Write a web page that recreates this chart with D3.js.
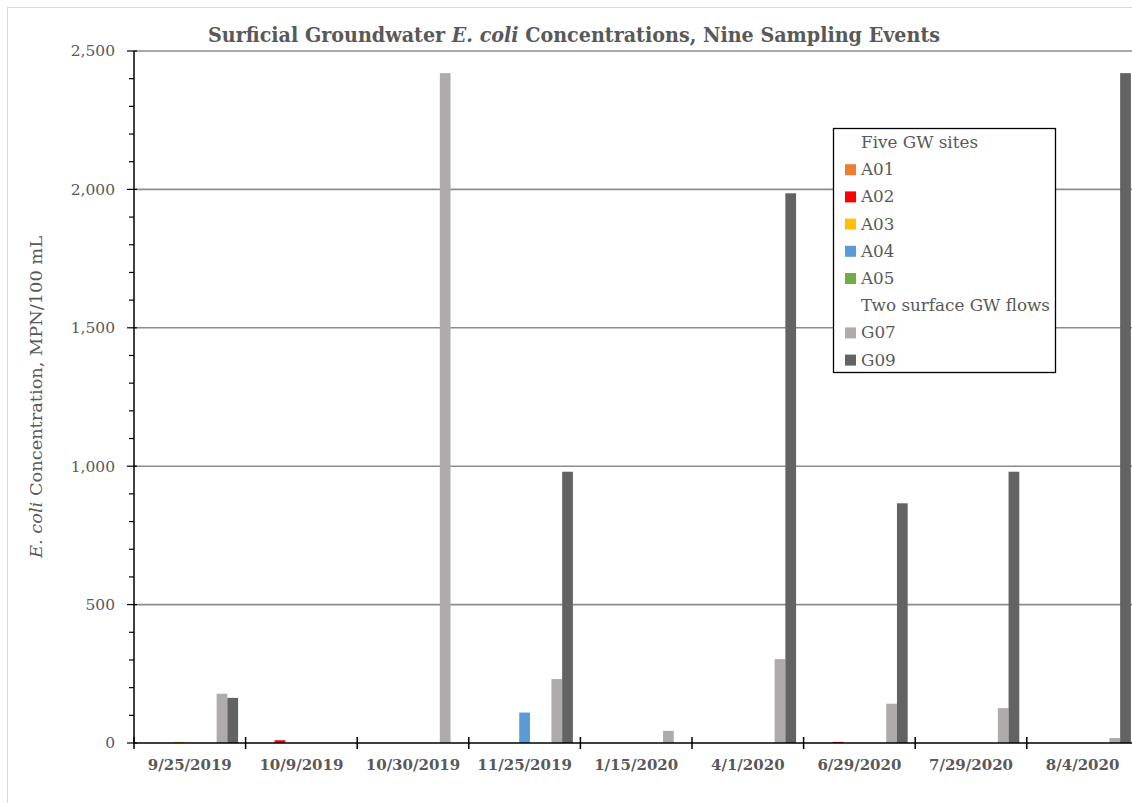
<!DOCTYPE html>
<html>
<head>
<meta charset="utf-8">
<script src="https://cdn.jsdelivr.net/npm/d3@7"></script>
<style>
  html, body { margin: 0; padding: 0; background: #fff; }
  svg { display: block; }
</style>
</head>
<body>
<svg id="chart" width="1132" height="803"></svg>
<script>
// Sampling events (x categories)
const dates = ["9/25/2019", "10/9/2019", "10/30/2019", "11/25/2019", "1/15/2020",
               "4/1/2020", "6/29/2020", "7/29/2020", "8/4/2020"];

// E. coli, MPN/100 mL, per site
const A01 = [0, 0, 0, 0, 0, 0, 0, 0, 0];
const A02 = [0, 10, 0, 0, 0, 0, 4, 0, 0];
const A03 = [4, 0, 0, 0, 0, 0, 0, 0, 0];
const A04 = [0, 0, 0, 110, 0, 0, 0, 0, 0];
const A05 = [0, 0, 0, 0, 0, 0, 0, 0, 0];
const G07 = [178, 0, 2420, 231, 44, 303, 142, 126, 18];
const G09 = [163, 0, 0, 980, 0, 1986, 866, 980, 2420];

// Legend order; group headers are series without values
const seriesNames = ["Five GW sites", "A01", "A02", "A03", "A04", "A05",
                     "Two surface GW flows", "G07", "G09"];
const seriesValues = [null, A01, A02, A03, A04, A05, null, G07, G09];
const seriesColors = [null, "#ED7D31", "#FF0000", "#FFC000", "#5B9BD5", "#70AD47",
                      null, "#AFABAB", "#636363"];

const yTicks = [0, 500, 1000, 1500, 2000, 2500];

const svg = d3.select("#chart");
const textGray = "#595959";

// chart frame
svg.append("rect")
  .attr("x", 7.5).attr("y", 7.5)
  .attr("width", 1200).attr("height", 900)
  .attr("fill", "#fff").attr("stroke", "#d9d9d9").attr("stroke-width", 1);

const plotLeft = 134, bandW = 111.6;
const x0 = d3.scaleBand().domain(dates)
  .range([plotLeft, plotLeft + dates.length * bandW])
  .paddingInner(0).paddingOuter(0);
const x1 = d3.scaleBand().domain(seriesNames)
  .range([0, x0.bandwidth()])
  .paddingInner(0).paddingOuter(0.7);
const y = d3.scaleLinear().domain([0, 2500]).range([743, 51]);

// gridlines
svg.append("g").selectAll("line")
  .data(yTicks.filter(d => d > 0))
  .join("line")
  .attr("x1", plotLeft).attr("x2", 1200)
  .attr("y1", d => y(d)).attr("y2", d => y(d))
  .attr("stroke", "#8c8c8c").attr("stroke-width", 1.6);

// bars
const barData = [];
seriesNames.forEach((name, si) => {
  const vals = seriesValues[si];
  if (!vals) return;
  vals.forEach((v, di) => {
    if (v > 0) barData.push({ name, date: dates[di], value: v, color: seriesColors[si] });
  });
});
svg.append("g").selectAll("rect")
  .data(barData)
  .join("rect")
  .attr("x", d => x0(d.date) + x1(d.name))
  .attr("width", x1.bandwidth())
  .attr("y", d => y(d.value))
  .attr("height", d => y(0) - y(d.value))
  .attr("fill", d => d.color);

// y axis
const yAxisG = svg.append("g").attr("transform", `translate(${plotLeft},0)`);
yAxisG.append("line")
  .attr("x1", 0).attr("x2", 0).attr("y1", y(2500)).attr("y2", y(0))
  .attr("stroke", "#000").attr("stroke-width", 1.5);
yAxisG.selectAll("line.minor")
  .data(d3.range(0, 2501, 100))
  .join("line").attr("class", "minor")
  .attr("x1", d => d % 500 === 0 ? -7 : -5).attr("x2", d => d % 500 === 0 ? 3 : 0)
  .attr("y1", d => y(d)).attr("y2", d => y(d))
  .attr("stroke", "#000").attr("stroke-width", 1.2);
yAxisG.selectAll("text")
  .data(yTicks)
  .join("text")
  .attr("x", -19).attr("y", d => y(d))
  .attr("dy", "0.35em")
  .attr("text-anchor", "end")
  .attr("font-family", "DejaVu Serif")
  .attr("font-size", 15.5)
  .attr("fill", textGray)
  .text(d => d3.format(",")(d));

// x axis
const xAxisG = svg.append("g");
xAxisG.append("line")
  .attr("x1", plotLeft).attr("x2", 1200).attr("y1", y(0)).attr("y2", y(0))
  .attr("stroke", "#000").attr("stroke-width", 1.5);
xAxisG.selectAll("line.tick")
  .data(dates.map(d => x0(d)).concat([x0(dates[dates.length - 1]) + x0.bandwidth()]))
  .join("line").attr("class", "tick")
  .attr("x1", d => d).attr("x2", d => d)
  .attr("y1", y(0) - 6).attr("y2", y(0) + 6)
  .attr("stroke", "#000").attr("stroke-width", 1.5);
xAxisG.selectAll("text")
  .data(dates)
  .join("text")
  .attr("x", d => x0(d) + x0.bandwidth() / 2)
  .attr("y", 770)
  .attr("text-anchor", "middle")
  .attr("font-family", "DejaVu Serif")
  .attr("font-weight", "bold")
  .attr("font-size", 15)
  .attr("fill", textGray)
  .text(d => d);

// title
const title = svg.append("text")
  .attr("x", 574).attr("y", 42)
  .attr("text-anchor", "middle")
  .attr("font-family", "DejaVu Serif Condensed, DejaVu Serif")
  .attr("font-stretch", "condensed")
  .attr("font-weight", "bold")
  .attr("font-size", 20)
  .attr("fill", textGray)
  .attr("textLength", 732)
  .attr("lengthAdjust", "spacingAndGlyphs");
title.append("tspan").text("Surficial Groundwater ");
title.append("tspan").attr("font-style", "italic").text("E. coli");
title.append("tspan").text(" Concentrations, Nine Sampling Events");

// y axis title
const yTitle = svg.append("text")
  .attr("transform", `translate(42,${(y(0) + y(2500)) / 2}) rotate(-90)`)
  .attr("text-anchor", "middle")
  .attr("font-family", "DejaVu Serif Condensed, DejaVu Serif")
  .attr("font-stretch", "condensed")
  .attr("font-size", 16)
  .attr("fill", textGray)
  .attr("textLength", 322)
  .attr("lengthAdjust", "spacingAndGlyphs");
yTitle.append("tspan").attr("font-style", "italic").text("E. coli");
yTitle.append("tspan").text(" Concentration, MPN/100 mL");

// legend
const legend = svg.append("g").attr("transform", "translate(833,128)");
legend.append("rect")
  .attr("x", 0.5).attr("y", 0.5).attr("width", 222).attr("height", 244)
  .attr("fill", "#fff").attr("stroke", "#000").attr("stroke-width", 1.3);
const rowH = 27.2;
const items = legend.selectAll("g.item")
  .data(seriesNames)
  .join("g").attr("class", "item")
  .attr("transform", (d, i) => `translate(0,${20 + i * rowH})`);
items.filter((d, i) => seriesColors[i])
  .append("rect")
  .attr("x", 12).attr("y", -11).attr("width", 11).attr("height", 11)
  .attr("fill", d => seriesColors[seriesNames.indexOf(d)]);
items.append("text")
  .attr("x", 28).attr("y", 0)
  .attr("font-family", "DejaVu Serif")
  .attr("font-size", 16.8)
  .attr("fill", textGray)
  .text(d => d);
</script>
</body>
</html>
